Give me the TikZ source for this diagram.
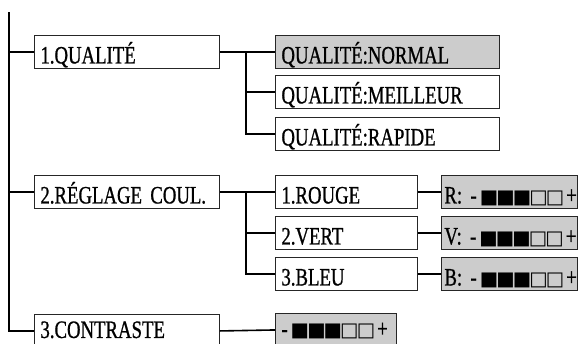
\documentclass[tikz,border=0pt]{standalone}
\usepackage{fontspec}
\setmainfont{Liberation Serif}[FakeStretch=0.75, FakeBold=0.8]
\newfontfamily\carres{DejaVu Sans}
\newcommand{\plein}{\makebox[16.5pt]{\carres\fontsize{19.5}{19.5}\selectfont ■}}
\newcommand{\vide}{\makebox[16.5pt]{\carres\fontsize{19.5}{19.5}\selectfont □}}
\newcommand{\niveau}{\mbox{-\hspace{4pt}\plein\plein\plein\vide\vide\hspace{3pt}+}}

\begin{document}
\begin{tikzpicture}[x=1pt, y=-1pt,
  menu/.style={draw=black!85, line width=0.9pt, rectangle, anchor=north west,
    minimum height=33pt, inner xsep=6pt, inner ysep=0pt,
    text height=23pt, text depth=0pt, align=left,
    font=\fontsize{25}{25}\selectfont},
  choix/.style={menu, fill=gray!40},
  bas/.style={text height=14pt},
  lien/.style={line width=1.6pt}]
  \useasboundingbox (0,0) rectangle (578,343);
  % niveau 1
  \node[menu, text width=173pt] (qual) at (34,35) {1.QUALITÉ};
  \node[menu, text width=173pt] (coul) at (34,175) {2.RÉGLAGE COUL.};
  \node[menu, bas, text width=173pt] (contr) at (34,314) {3.CONTRASTE};
  % qualite
  \node[choix, text width=212pt] (qnorm) at (275,35) {QUALITÉ:NORMAL};
  \node[menu, text width=212pt] (qmeil) at (275,75) {QUALITÉ:MEILLEUR};
  \node[menu, text width=212pt] (qrap) at (275,117) {QUALITÉ:RAPIDE};
  % couleurs
  \node[menu, text width=130pt] (rouge) at (275,175) {1.ROUGE};
  \node[menu, text width=130pt] (vert) at (275,216) {2.VERT};
  \node[menu, text width=130pt] (bleu) at (275,257) {3.BLEU};
  \node[choix, inner xsep=3pt, text width=130pt] (nr) at (441,175) {\mbox{R: \niveau}};
  \node[choix, inner xsep=3pt, text width=130pt] (nv) at (441,216) {\mbox{V: \niveau}};
  \node[choix, inner xsep=3pt, text width=130pt] (nb) at (441,257) {\mbox{B: \niveau}};
  % contraste
  \node[choix, bas, text width=109pt] (nc) at (275,313) {\niveau};
  % liens
  \coordinate (haut) at (9,12);
  \coordinate (bus) at (246,0);
  \draw[lien] (haut) |- (contr.west);
  \draw[lien] (haut |- qual.west) -- (qual.west);
  \draw[lien] (haut |- coul.west) -- (coul.west);
  \draw[lien] (qual.east) -- (qnorm.west);
  \draw[lien] (qual.east -| bus) |- (qmeil.west);
  \draw[lien] (qual.east -| bus) |- (qrap.west);
  \draw[lien] (coul.east) -- (rouge.west);
  \draw[lien] (coul.east -| bus) |- (vert.west);
  \draw[lien] (coul.east -| bus) |- (bleu.west);
  \draw[lien] (rouge.east) -- (nr.west);
  \draw[lien] (vert.east) -- (nv.west);
  \draw[lien] (bleu.east) -- (nb.west);
  \draw[lien] (contr.east) -- (nc.west);
\end{tikzpicture}
\end{document}
